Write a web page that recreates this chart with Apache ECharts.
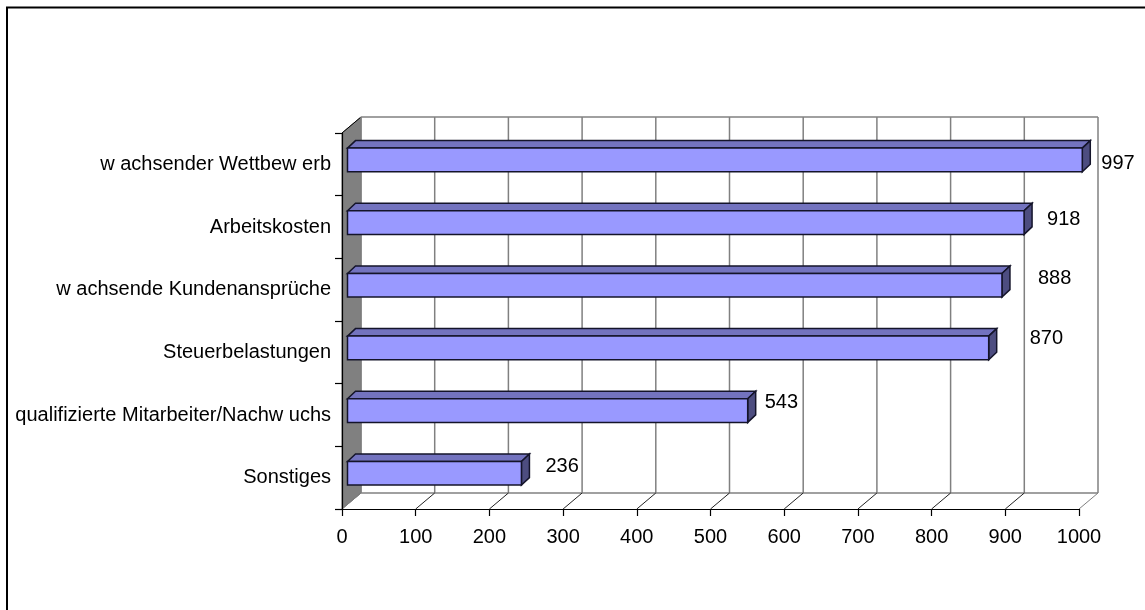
<!DOCTYPE html>
<html>
<head>
<meta charset="utf-8">
<style>html,body{margin:0;padding:0;background:#fff}#c{width:1145px;height:610px}</style>
<script src="https://cdn.jsdelivr.net/npm/echarts@6/dist/echarts.min.js"></script>
</head>
<body>
<div id="c"></div>
<script>
const categories = ['w achsender Wettbew erb','Arbeitskosten','w achsende Kundenansprüche','Steuerbelastungen','qualifizierte Mitarbeiter/Nachw uchs','Sonstiges'];
const values = [997,918,888,870,543,236];
const xTicks = [0,100,200,300,400,500,600,700,800,900,1000];

// label nudges seen in the reference (gap to bar tip, vertical shift)
const labelGap = [11,15,28,33,9,16];
const labelLift = [3.5,-3,-7,-9.5,-8,-7];

const FONT = '"Liberation Sans", Arial, sans-serif';
const FS = 20;
const DX = 19, DY = 16;          // floor/wall depth
const BX = 5.5, BY = 4.4;        // bar's front plane shift
const BDX = 8, BDY = 7.5;        // bar depth
const BAR_RATIO = 0.377;
const GREY = '#808080';

function poly(points, fill, stroke, lw) {
  return {type:'polygon', shape:{points}, style:{fill, stroke, lineWidth:lw}};
}
function line(x1,y1,x2,y2,stroke,lw) {
  return {type:'line', shape:{x1,y1,x2,y2}, style:{stroke, lineWidth:lw||1, fill:null}};
}

const option = {
  backgroundColor:'#fff',
  animation:false,
  graphic:[{type:'rect', silent:true, shape:{x:7,y:7.5,width:1300,height:800},
            style:{fill:null, stroke:'#000', lineWidth:2}}],
  grid:{left:342, top:133, width:737, height:376, containLabel:false},
  xAxis:{type:'value', min:0, max:1000, interval:100, z:10,
    splitLine:{show:false},
    axisLine:{show:true, onZero:false, lineStyle:{color:'#000', width:1.2}},
    axisTick:{show:true, length:7, lineStyle:{color:'#000', width:1.2}},
    axisLabel:{show:true, margin:18, color:'#000', fontFamily:FONT, fontSize:FS, hideOverlap:false, showMinLabel:true, showMaxLabel:true, formatter:function(v){return String(v);}}},
  yAxis:{type:'category', inverse:true, data:categories, z:10,
    axisLine:{show:true, lineStyle:{color:'#000', width:1.2}},
    axisTick:{show:true, length:7, alignWithLabel:false, lineStyle:{color:'#000', width:1.2}},
    axisLabel:{show:true, margin:11, color:'#000', fontFamily:FONT, fontSize:FS, interval:0},
    splitLine:{show:false}},
  series:[
    {type:'custom', name:'walls', coordinateSystem:'cartesian2d', z:1, silent:true,
     data:[[0,0]], encode:{x:0,y:1},
     renderItem:function(p,api){
       const r=p.coordSys, L=r.x, T=r.y, R=r.x+r.width, B=r.y+r.height;
       return {type:'group', children:[
         poly([[L,T],[L+DX,T-DY],[L+DX,B-DY],[L,B]], GREY, '#666', 1),
         line(L+DX,T-DY,R+DX,T-DY,GREY,1.5),
         line(L+DX,B-DY,R+DX,B-DY,GREY,1.5),
         line(L,T,L+DX,T-DY,'#000',1)
       ]};
     }},
    {type:'custom', name:'grid', coordinateSystem:'cartesian2d', z:2, silent:true,
     data:xTicks.map(v=>[v,0]), encode:{x:0,y:1},
     renderItem:function(p,api){
       const r=p.coordSys, x=api.coord([api.value(0),0])[0], B=r.y+r.height, T=r.y;
       const edge = api.value(0)===0 || api.value(0)===xTicks[xTicks.length-1];
       return {type:'group', children:[
         line(x+DX,T-DY,x+DX,B-DY,GREY,1.5),
         line(x,B,x+DX,B-DY,edge?GREY:'#222',1)
       ]};
     }},
    {type:'custom', name:'bars', coordinateSystem:'cartesian2d', z:5, silent:true,
     data:values.map((v,i)=>[v,i]), encode:{x:0,y:1},
     renderItem:function(p,api){
       const i=api.value(1), tip=api.coord([api.value(0),i]), zero=api.coord([0,i]);
       const h=api.size([0,1])[1]*BAR_RATIO;
       const x0=zero[0]+BX, x1=tip[0]+BX, yT=tip[1]-BY-h/2, yB=tip[1]-BY+h/2;
       const S='#14142a', W=1.5;
       return {type:'group', children:[
         poly([[x0,yT],[x0+BDX,yT-BDY],[x1+BDX,yT-BDY],[x1,yT]],'#7373BF',S,W),
         poly([[x1,yT],[x1+BDX,yT-BDY],[x1+BDX,yB-BDY],[x1,yB]],'#4D4D80',S,W),
         poly([[x0,yT],[x1,yT],[x1,yB],[x0,yB]],'#9999FF',S,W),
         {type:'text', style:{text:String(api.value(0)), x:x1+BDX+labelGap[i], y:tip[1]-BY+labelLift[i],
            fill:'#000', font:FS+'px '+FONT, align:'left', verticalAlign:'middle'}}
       ]};
     }}
  ]
};
echarts.init(document.getElementById('c'),null,{renderer:'canvas'}).setOption(option);
</script>
</body>
</html>
